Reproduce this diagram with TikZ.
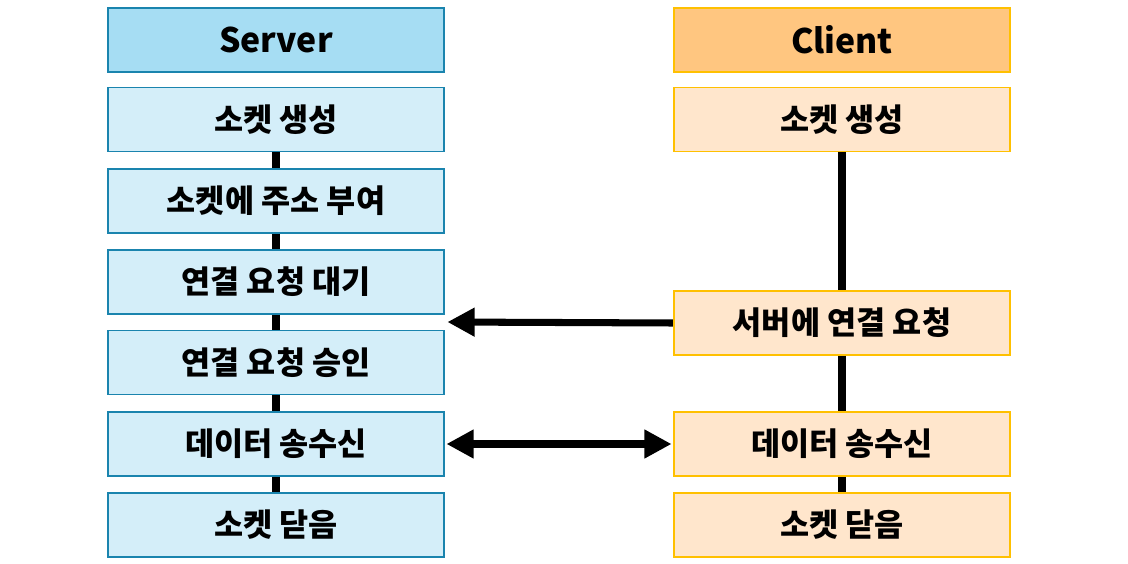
\documentclass[tikz,border=0pt]{standalone}
\usepackage{fontspec}
\newfontfamily\kr{Noto Sans CJK KR}
\usetikzlibrary{arrows.meta}
\definecolor{srvline}{HTML}{1A84AE}
\definecolor{srvhead}{HTML}{A6DDF3}
\definecolor{srvbox}{HTML}{D4EEF9}
\definecolor{clihead}{HTML}{FFC680}
\definecolor{cliline}{HTML}{FFC000}
\definecolor{clibox}{HTML}{FFE6CC}
\tikzset{
	box/.style={draw,line width=1.4pt,minimum width=8.4cm,minimum height=1.6cm,inner sep=0pt,font=\kr\bfseries\fontsize{22.5}{26}\selectfont},
	srv/.style={box,draw=srvline,fill=srvbox},
	cli/.style={box,draw=cliline,fill=clibox},
	head/.style={font=\kr\bfseries\fontsize{24}{28}\selectfont},
	link/.style={line width=5pt},
	flow/.style={line width=5pt,-{Triangle[length=0.68cm,width=0.68cm]},shorten >=1pt}
}
\begin{document}
\begin{tikzpicture}[x=0.025cm,y=-0.025cm]
	\useasboundingbox (0,0) rectangle (1128,564);
	% server column
	\node[srv,head,fill=srvhead] (sh) at (276,40) {Server};
	\foreach \n/\y/\t in {s1/119.5/소켓 생성,s2/201/소켓에 주소 부여,s3/282/연결 요청 대기,s4/362.5/연결 요청 승인,s5/444/데이터 송수신,s6/525/소켓 닫음}{
		\node[srv] (\n) at (276,\y) {\t};
	}
	% client column
	\node[cli,head,fill=clihead] (ch) at (842,40) {Client};
	\foreach \n/\y/\t in {c1/119.5/소켓 생성,c2/323/서버에 연결 요청,c5/444/데이터 송수신,c6/525/소켓 닫음}{
		\node[cli] (\n) at (842,\y) {\t};
	}
	\foreach \a/\b in {s1/s2,s2/s3,s3/s4,s4/s5,s5/s6}{
		\draw[link] (\a.south) -- (\b.north);
	}
	\foreach \a/\b in {c1/c2,c2/c5,c5/c6}{
		\draw[link] (\a.south) -- (\b.north);
	}
	\coordinate (req) at (446,322);
	\draw[flow] (c2.west) -- (req);
	\draw[flow,{Triangle[length=0.68cm,width=0.68cm]}-{Triangle[length=0.68cm,width=0.68cm]},shorten <=1pt] (s5.east) -- (c5.west);
\end{tikzpicture}
\end{document}
